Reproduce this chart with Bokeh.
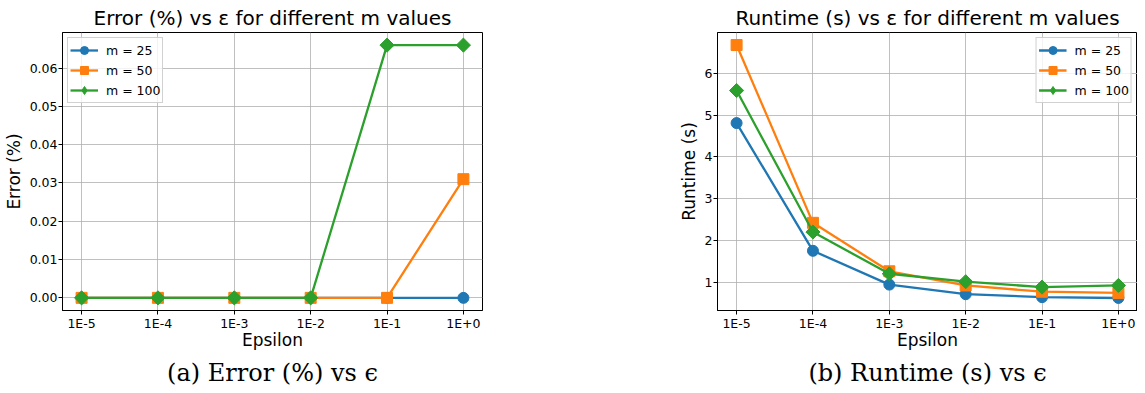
from bokeh.plotting import figure
from bokeh.models import FixedTicker, Title, Legend, LegendItem, Range1d, PrintfTickFormatter
from bokeh.layouts import row
from bokeh.embed import file_html
from bokeh.resources import INLINE

eps_labels = ["1E-5", "1E-4", "1E-3", "1E-2", "1E-1", "1E+0"]
series_names = ["m = 25", "m = 50", "m = 100"]
err_m25 = [0.0, 0.0, 0.0, 0.0, 0.0, 0.0]
err_m50 = [0.0, 0.0, 0.0, 0.0, 0.0, 0.031]
err_m100 = [0.0, 0.0, 0.0, 0.0, 0.066, 0.066]
rt_m25 = [4.81, 1.75, 0.94, 0.71, 0.64, 0.62]
rt_m50 = [6.68, 2.42, 1.26, 0.92, 0.77, 0.74]
rt_m100 = [5.59, 2.20, 1.20, 1.01, 0.88, 0.92]
err_ticks = [0.0, 0.01, 0.02, 0.03, 0.04, 0.05, 0.06]
rt_ticks = [1, 2, 3, 4, 5, 6]

colors = ["#1f77b4", "#ff7f0e", "#2ca02c"]
FONT = "DejaVu Sans"
xs = list(range(len(eps_labels)))


def make_fig(title, ylabel, caption, series, yrange, yticks, yfmt, legend_loc,
             border_left, border_right):
    p = figure(frame_width=420, frame_height=278, output_backend="svg",
               toolbar_location=None, min_border_left=border_left,
               min_border_right=border_right, min_border_top=24,
               min_border_bottom=70,
               x_range=Range1d(-0.25, 5.25), y_range=Range1d(*yrange))
    p.title = Title(text=title, align="center", text_font=FONT,
                    text_font_size="20px", text_font_style="normal",
                    text_color="black", standoff=6)
    p.add_layout(Title(text=caption, align="center", text_font="DejaVu Serif",
                       text_font_size="24px", text_font_style="normal",
                       text_color="black", standoff=9), "below")
    p.outline_line_color = "black"
    p.outline_line_width = 1
    p.background_fill_color = "white"
    p.border_fill_color = "white"
    for ax in (p.xaxis[0], p.yaxis[0]):
        ax.axis_line_color = "black"
        ax.major_tick_line_color = "black"
        ax.major_tick_out = 4
        ax.major_tick_in = 0
        ax.minor_tick_line_color = None
        ax.major_label_text_font = FONT
        ax.major_label_text_font_size = "12.5px"
        ax.major_label_text_color = "black"
        ax.axis_label_text_font = FONT
        ax.axis_label_text_font_size = "17px"
        ax.axis_label_text_font_style = "normal"
        ax.axis_label_text_color = "black"
        ax.major_label_standoff = 1
    p.xaxis.axis_label_standoff = -4
    p.yaxis.axis_label_standoff = 3
    p.xaxis.ticker = FixedTicker(ticks=xs)
    p.xaxis.major_label_overrides = {i: lab for i, lab in enumerate(eps_labels)}
    p.xaxis.axis_label = "Epsilon"
    p.yaxis.ticker = FixedTicker(ticks=yticks)
    p.yaxis.formatter = PrintfTickFormatter(format=yfmt)
    p.yaxis.axis_label = ylabel
    p.grid.grid_line_color = "#b0b0b0"
    p.grid.grid_line_width = 1
    p.grid.grid_line_alpha = 0.8

    items = []
    markers = ["circle", "square", "square"]
    legend_markers = ["circle", "square", "diamond"]
    sizes = [11, 11, 10]
    angles = [0, 0, 0.7853981634]
    for name, ys, c, mk, lmk, sz, ang in zip(series_names, series, colors, markers,
                                             legend_markers, sizes, angles):
        ln = p.line(xs, ys, line_color=c, line_width=2.3)
        sc = p.scatter(xs, ys, marker=mk, size=sz, angle=ang, fill_color=c,
                       line_color=c, line_width=1)
        if lmk != mk:
            lg = p.scatter(xs, ys, marker=lmk, size=sz, fill_color=c,
                           line_color=c, line_width=1, visible=False)
            items.append(LegendItem(label=name, renderers=[ln, lg]))
        else:
            items.append(LegendItem(label=name, renderers=[ln, sc]))
    leg = Legend(items=items, location=legend_loc, label_text_font=FONT,
                 label_text_font_size="12.5px", label_text_color="black",
                 glyph_width=28, glyph_height=20, label_height=20,
                 label_standoff=8, spacing=0, padding=2, margin=5,
                 border_line_color="#cccccc", border_line_width=1,
                 border_line_alpha=0.9, background_fill_alpha=0.8)
    p.add_layout(leg)
    return p


p1 = make_fig("Error (%) vs ε for different m values", "Error (%)",
              "(a) Error (%) vs ϵ", [err_m25, err_m50, err_m100],
              (-0.0033, 0.0693), err_ticks, "%.2f", "top_left", 54, 118)
p2 = make_fig("Runtime (s) vs ε for different m values", "Runtime (s)",
              "(b) Runtime (s) vs ϵ", [rt_m25, rt_m50, rt_m100],
              (0.32, 6.98), rt_ticks, "%d", "top_right", 117, 0)

layout = row(p1, p2, spacing=0)
open("out.html", "w").write(file_html(layout, INLINE))
